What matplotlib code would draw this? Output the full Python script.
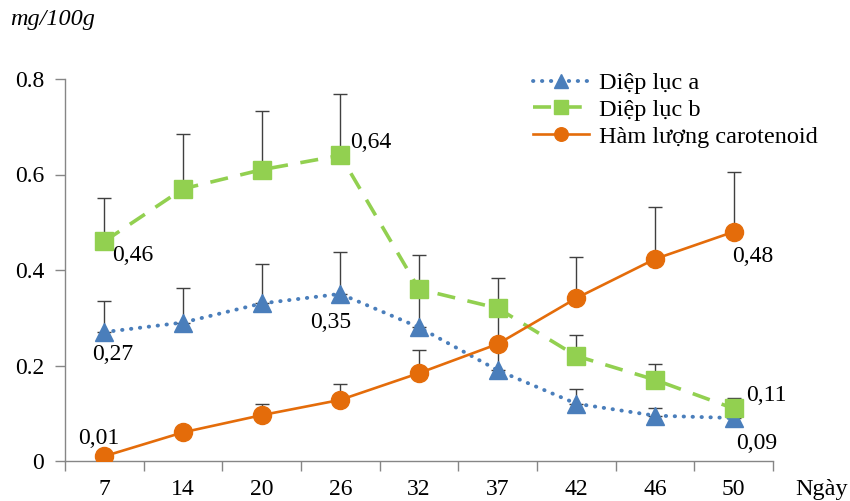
import numpy as np
import matplotlib
matplotlib.use("Agg")
import matplotlib.pyplot as plt

days = ["7", "14", "20", "26", "32", "37", "42", "46", "50"]

chl_a = [0.27, 0.29, 0.33, 0.35, 0.28, 0.19, 0.12, 0.095, 0.09]
chl_a_err = [0.065, 0.072, 0.083, 0.088, 0.08, 0.05, 0.03, 0.015, 0.01]

chl_b = [0.46, 0.57, 0.61, 0.64, 0.36, 0.32, 0.22, 0.17, 0.11]
chl_b_err = [0.09, 0.115, 0.123, 0.128, 0.071, 0.063, 0.044, 0.033, 0.022]

carot = [0.01, 0.06, 0.096, 0.128, 0.184, 0.245, 0.341, 0.423, 0.48]
carot_err = [0.005, 0.01, 0.023, 0.033, 0.048, 0.06, 0.086, 0.109, 0.125]

# (series, index, text, dx px, dy px, ha, va)
point_labels = [
    ("a", 0, "0,27", -12, -12, "left", "top"),
    ("a", 3, "0,35", -30, -18, "left", "top"),
    ("a", 8, "0,09", 2, -15, "left", "top"),
    ("b", 0, "0,46", 8, -4, "left", "top"),
    ("b", 3, "0,64", 10, 2, "left", "bottom"),
    ("b", 8, "0,11", 12, 13, "left", "center"),
    ("c", 0, "0,01", -26, 7, "left", "bottom"),
    ("c", 8, "0,48", -2, -14, "left", "top"),
]

plt.rcParams["font.family"] = ["Liberation Serif", "DejaVu Serif"]
FS = 17

BLUE = "#4a7ebb"
GREEN = "#92d050"
ORANGE = "#e46c0a"
AXIS = "#868686"

fig = plt.figure(figsize=(8.5, 5.01), dpi=100)
ax = fig.add_axes([65 / 850, 40 / 501, 708 / 850, 382 / 501])

x = np.arange(len(days))
series = {"a": chl_a, "b": chl_b, "c": carot}

for vals, err in [(chl_a, chl_a_err), (chl_b, chl_b_err), (carot, carot_err)]:
    ax.errorbar(x, vals, yerr=[np.zeros(len(vals)), err], fmt="none",
                ecolor="#404040", elinewidth=1.0, capsize=5, capthick=1.0, zorder=1)

ax.plot(x, chl_a, color=BLUE, lw=2.8, ls=(0, (0.1, 2.2)), dash_capstyle="round",
        marker="^", ms=13, mfc=BLUE, mec=BLUE, label="Diệp lục a", zorder=2)
ax.plot(x, chl_b, color=GREEN, lw=2.6, ls=(0, (5, 3.5)),
        marker="s", ms=13, mfc=GREEN, mec=GREEN, label="Diệp lục b", zorder=3)
ax.plot(x, carot, color=ORANGE, lw=1.9, ls="-",
        marker="o", ms=13, mfc=ORANGE, mec=ORANGE, label="Hàm lượng carotenoid", zorder=4)

for key, i, txt, dx, dy, ha, va in point_labels:
    ax.annotate(txt, (x[i], series[key][i]), xytext=(dx * 0.72, dy * 0.72),
                textcoords="offset points", ha=ha, va=va, fontsize=FS, zorder=5)

ax.set_xlim(-0.5, len(days) - 0.5)
ax.set_ylim(0, 0.8)
ax.set_yticks([0, 0.2, 0.4, 0.6, 0.8])
ax.set_yticklabels(["0", "0.2", "0.4", "0.6", "0.8"])
ax.set_xticks(np.arange(-0.5, len(days)), labels=[""] * (len(days) + 1))
ax.set_xticks(x, labels=days, minor=True)
ax.tick_params(axis="x", which="major", length=7, color=AXIS, width=1)
ax.tick_params(axis="x", which="minor", length=0, pad=13, labelsize=FS)
ax.tick_params(axis="y", length=7, color=AXIS, width=1, pad=8, labelsize=FS)

for side in ("top", "right"):
    ax.spines[side].set_visible(False)
for side in ("left", "bottom"):
    ax.spines[side].set_color(AXIS)
    ax.spines[side].set_linewidth(1.0)

fig.text(10 / 850, 1 - 20 / 501, "mg/100g", fontsize=FS + 0.5, style="italic",
         ha="left", va="center")
fig.text(795 / 850, 1 - 489 / 501, "Ngày", fontsize=FS + 0.5, ha="left", va="center")

fig.legend(loc="upper left", bbox_to_anchor=(533 / 850, 1 - 72 / 501), frameon=False,
           fontsize=17.5, handlelength=2.3, handletextpad=0.4,
           labelspacing=0.2, borderaxespad=0, borderpad=0, markerscale=0.75)

fig.savefig("out.png", dpi=100)
